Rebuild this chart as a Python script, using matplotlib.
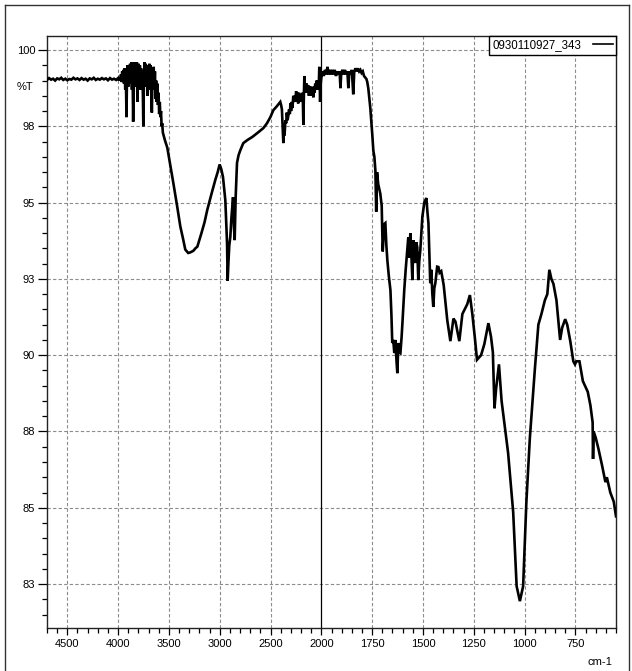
import numpy as np
import matplotlib
matplotlib.use("Agg")
import matplotlib.pyplot as plt
from matplotlib.ticker import FixedLocator, FixedFormatter, NullFormatter
from matplotlib.lines import Line2D

plt.rcParams['font.family'] = ['Liberation Sans', 'DejaVu Sans']

# Spectrum, 4700-2000 cm-1 (drawn at half scale)
wn_high = [4700, 4680, 4660, 4640, 4620, 4600, 4580, 4560, 4540, 4520, 4500, 4480,
           4460, 4440, 4420, 4400, 4380, 4360, 4340, 4320, 4300, 4280, 4260, 4240,
           4220, 4200, 4180, 4160, 4140, 4120, 4100, 4080, 4060, 4040, 4020, 4000,
           3992, 3985, 3978, 3972, 3966, 3960, 3954, 3948, 3942, 3936, 3930, 3924,
           3918, 3912, 3906, 3900, 3894, 3888, 3882, 3876, 3870, 3864, 3858, 3852,
           3846, 3840, 3834, 3828, 3822, 3816, 3810, 3804, 3798, 3792, 3786, 3780,
           3774, 3768, 3762, 3756, 3752, 3746, 3740, 3734, 3728, 3722, 3716, 3710,
           3704, 3698, 3692, 3686, 3680, 3674, 3668, 3662, 3656, 3650, 3644, 3638,
           3632, 3626, 3620, 3614, 3608, 3602, 3596, 3590, 3584, 3578, 3572, 3566,
           3560, 3540, 3516, 3490, 3457, 3420, 3388, 3360, 3339, 3310, 3289, 3260,
           3240, 3220, 3180, 3150, 3122, 3080, 3043, 3020, 3001, 2985, 2968, 2945,
           2928, 2922, 2915, 2906, 2896, 2885, 2869, 2860, 2853, 2843, 2830, 2815,
           2797, 2768, 2728, 2680, 2630, 2571, 2535, 2502, 2472, 2440, 2404, 2396,
           2388, 2380, 2374, 2368, 2362, 2354, 2346, 2340, 2332, 2325, 2318, 2310,
           2304, 2298, 2290, 2284, 2276, 2270, 2262, 2256, 2248, 2240, 2234, 2228,
           2220, 2212, 2204, 2196, 2188, 2182, 2177, 2172, 2167, 2162, 2156, 2150,
           2144, 2138, 2130, 2122, 2114, 2106, 2100, 2092, 2086, 2079, 2072, 2066,
           2060, 2052, 2046, 2039, 2032, 2026, 2020, 2015, 2012, 2006]
t_high = [99.02, 99.08, 99.03, 99.06, 99.00, 99.07, 99.04, 99.09, 99.02, 99.06, 99.01, 99.05,
          99.03, 99.09, 99.04, 99.07, 99.02, 99.08, 99.03, 99.06, 99.00, 99.07, 99.04, 99.09,
          99.02, 99.06, 99.03, 99.08, 99.04, 99.07, 99.01, 99.08, 99.03, 99.06, 99.02, 99.08,
          99.00, 99.10, 99.00, 99.20, 98.95, 99.30, 99.05, 99.35, 98.90, 99.40, 98.70, 99.30,
          97.80, 99.25, 99.50, 98.80, 99.45, 98.90, 99.55, 99.00, 99.60, 98.70, 99.45, 97.65,
          99.30, 99.60, 98.90, 99.55, 98.80, 99.60, 98.30, 99.30, 99.55, 98.80, 99.50, 98.70,
          99.40, 98.90, 99.30, 98.50, 97.50, 99.10, 99.60, 98.80, 99.55, 98.90, 99.50, 98.50,
          99.35, 98.70, 99.55, 98.85, 99.50, 98.60, 97.95, 99.10, 98.80, 99.45, 98.70, 99.30,
          98.40, 99.00, 98.30, 98.90, 98.20, 98.60, 97.90, 98.30, 97.80, 98.00, 97.50, 97.60,
          97.30, 97.05, 96.80, 96.30, 95.65, 94.90, 94.22, 93.80, 93.46, 93.35, 93.37, 93.42,
          93.50, 93.56, 94.00, 94.35, 94.77, 95.30, 95.75, 96.00, 96.25, 96.10, 95.84, 95.08,
          93.67, 92.44, 93.00, 93.60, 93.87, 94.50, 95.18, 94.20, 93.77, 95.20, 96.30, 96.55,
          96.72, 96.95, 97.05, 97.15, 97.28, 97.44, 97.60, 97.80, 98.03, 98.15, 98.30, 98.20,
          98.05, 97.40, 96.95, 97.40, 97.20, 97.70, 97.60, 97.95, 97.70, 97.85, 98.05, 97.90,
          98.25, 98.00, 98.30, 98.10, 98.50, 98.30, 98.50, 98.30, 98.65, 98.40, 98.60, 98.25,
          98.60, 98.35, 98.55, 98.30, 98.60, 98.40, 97.55, 98.50, 99.15, 98.60, 98.90, 98.60,
          98.90, 98.70, 98.85, 98.50, 98.80, 98.55, 98.80, 98.50, 98.75, 98.45, 98.80, 98.60,
          98.90, 98.70, 99.00, 98.80, 99.00, 98.70, 99.45, 98.80, 98.30, 98.90]

# Spectrum, 2000-550 cm-1 (full scale)
wn_low = [2000, 1994, 1988, 1982, 1976, 1970, 1964, 1958, 1952, 1946, 1940, 1934,
          1928, 1922, 1916, 1910, 1906, 1902, 1896, 1890, 1884, 1878, 1872, 1867,
          1862, 1856, 1850, 1843, 1838, 1832, 1826, 1820, 1814, 1808, 1802, 1796,
          1790, 1784, 1778, 1774, 1769, 1759, 1749, 1744, 1739, 1734, 1730, 1726,
          1720, 1710, 1703, 1698, 1690, 1685, 1680, 1675, 1668, 1660, 1655, 1651,
          1646, 1641, 1636, 1630, 1626, 1621, 1616, 1611, 1605, 1601, 1592, 1585,
          1577, 1572, 1567, 1562, 1557, 1552, 1547, 1542, 1537, 1533, 1528, 1523,
          1518, 1513, 1503, 1493, 1483, 1478, 1473, 1464, 1459, 1454, 1449, 1444,
          1439, 1430, 1424, 1418, 1410, 1398, 1380, 1365, 1350, 1340, 1321, 1306,
          1282, 1269, 1257, 1245, 1234, 1214, 1198, 1178, 1165, 1156, 1148, 1140,
          1126, 1113, 1081, 1056, 1039, 1023, 1007, 991, 974, 949, 932, 917,
          900, 888, 878, 868, 858, 843, 825, 815, 800, 790, 775, 760,
          752, 745, 730, 713, 689, 676, 665, 663, 660, 650, 637, 619,
          602, 595, 578, 561, 550]
t_low = [99.10, 99.30, 99.15, 99.35, 99.20, 99.45, 99.20, 99.35, 99.20, 99.35, 99.20, 99.35,
         99.15, 99.30, 99.20, 99.30, 98.75, 99.25, 99.35, 99.20, 99.35, 99.20, 99.30, 98.75,
         99.30, 99.20, 99.35, 98.55, 99.30, 99.40, 99.30, 99.40, 99.30, 99.35, 99.25, 99.30,
         99.15, 99.10, 99.05, 98.95, 98.75, 98.10, 97.20, 96.70, 96.50, 96.05, 94.70, 96.00,
         95.60, 95.30, 94.90, 93.40, 94.30, 94.33, 93.60, 93.10, 92.60, 92.13, 91.30, 90.40,
         90.50, 90.07, 90.50, 89.80, 89.41, 90.40, 90.10, 90.07, 90.60, 91.05, 92.13, 92.80,
         93.44, 93.87, 93.20, 94.00, 93.30, 92.46, 93.77, 93.30, 93.02, 93.70, 93.54, 92.46,
         93.10, 93.44, 94.53, 95.02, 95.15, 94.70, 94.33, 92.36, 92.80, 92.03, 91.58, 92.20,
         92.36, 92.90, 92.89, 92.70, 92.75, 92.30, 91.13, 90.46, 91.20, 91.10, 90.46, 91.35,
         91.67, 91.97, 91.35, 90.60, 89.85, 90.00, 90.36, 91.05, 90.60, 90.10, 88.26, 88.90,
         89.70, 88.50, 86.80, 84.86, 82.43, 81.94, 82.43, 85.19, 87.28, 89.57, 91.00, 91.35,
         91.80, 92.00, 92.80, 92.50, 92.34, 91.80, 90.50, 90.90, 91.18, 91.00, 90.46, 89.80,
         89.70, 89.80, 89.80, 89.15, 88.80, 88.36, 87.80, 86.60, 87.50, 87.30, 86.95, 86.40,
         85.84, 86.00, 85.50, 85.20, 84.72]

sample_name = "0930110927_343"

x_major = [4500, 4000, 3500, 3000, 2500, 2000, 1750, 1500, 1250, 1000, 750]
x_labels = ["4500", "4000", "3500", "3000", "2500", "2000",
            "1750", "1500", "1250", "1000", "750"]
y_major = [100, 97.5, 95, 92.5, 90, 87.5, 85, 82.5]
y_labels = ["100", "98", "95", "93", "90", "88", "85", "83"]


def expand_fwd(x):
    # wavenumbers above 2000 cm-1 are compressed by a factor of two
    x = np.asarray(x, dtype=float)
    return np.where(x > 2000, 2000 + (x - 2000) / 2.0, x)


def expand_inv(u):
    u = np.asarray(u, dtype=float)
    return np.where(u > 2000, 2000 + (u - 2000) * 2.0, u)


W, H = 632, 671
fig = plt.figure(figsize=(W / 100, H / 100), dpi=100)
ax = fig.add_axes([47 / W, 43 / H, 569 / W, 592 / H])

ax.set_xscale('function', functions=(expand_fwd, expand_inv))
ax.set_xlim(4700, 550)
ax.set_ylim(81.06, 100.46)

wn = np.array(wn_high + wn_low, dtype=float)
tr = np.array(t_high + t_low, dtype=float)
ax.plot(wn, tr, color='black', lw=1.9, solid_joinstyle='miter', zorder=3,
        label=sample_name)

# ticks
x_minor = [v for v in list(range(4700, 2000, -100)) + list(range(1950, 549, -50))
           if v not in x_major]
ax.xaxis.set_major_locator(FixedLocator(x_major))
ax.xaxis.set_major_formatter(FixedFormatter(x_labels))
ax.xaxis.set_minor_locator(FixedLocator(x_minor))
ax.xaxis.set_minor_formatter(NullFormatter())
ax.yaxis.set_major_locator(FixedLocator(y_major))
ax.yaxis.set_major_formatter(FixedFormatter(y_labels))
ax.yaxis.set_minor_locator(FixedLocator(list(np.arange(81.5, 100.01, 0.5))))
ax.yaxis.set_minor_formatter(NullFormatter())

ax.tick_params(axis='x', which='major', direction='out', length=5, width=0.9,
               labelsize=8, pad=3, colors='black')
ax.tick_params(axis='x', which='minor', direction='out', length=3.5, width=0.9)
ax.tick_params(axis='y', which='major', direction='out', length=6.5, width=0.9,
               labelsize=8, pad=2, colors='black')
ax.tick_params(axis='y', which='minor', direction='out', length=3.6, width=0.9)

for s in ax.spines.values():
    s.set_color('#222222')
    s.set_linewidth(1.0)

# dashed grid; the 2000 cm-1 scale break is a solid line
for v in x_major:
    if v != 2000:
        ax.axvline(v, color='#8c8c8c', lw=0.8, ls=(0, (3, 2)), zorder=1)
for v in y_major:
    ax.axhline(v, color='#8c8c8c', lw=0.8, ls=(0, (3, 2)), zorder=1)
ax.axvline(2000, color='black', lw=0.9, zorder=2)

leg = ax.legend(loc='upper right', fontsize=8.3, frameon=True, fancybox=False,
                framealpha=1, edgecolor='black', borderaxespad=0.0,
                borderpad=0.3, handlelength=1.7, handletextpad=1.0,
                markerfirst=False)
leg.get_frame().set_linewidth(1.0)
for h in leg.get_lines():
    h.set_linewidth(1.2)

fig.text(25 / W, 1 - 87 / H, "%T", fontsize=8, ha='center', va='center')
fig.text(600 / W, 1 - 662 / H, "cm-1", fontsize=8, ha='center', va='center')

# window frame
fig.add_artist(Line2D([5 / W, 5 / W], [0, 1 - 5 / H], transform=fig.transFigure,
                      color='#333333', lw=1.0))
fig.add_artist(Line2D([5 / W, 629 / W], [1 - 5 / H, 1 - 5 / H],
                      transform=fig.transFigure, color='#333333', lw=1.0))
fig.add_artist(Line2D([629 / W, 629 / W], [0, 1 - 5 / H], transform=fig.transFigure,
                      color='#333333', lw=1.0))

fig.savefig("out.png", dpi=100)
